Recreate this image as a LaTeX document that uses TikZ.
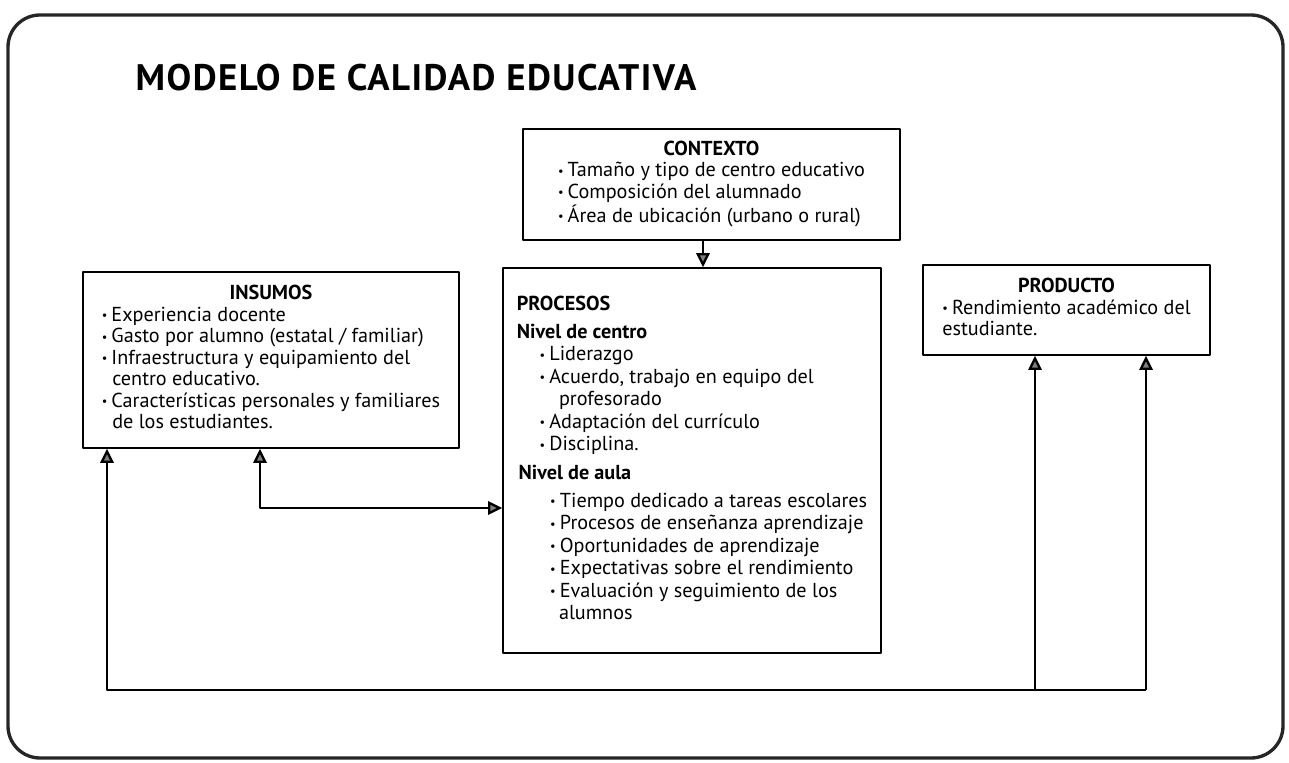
\documentclass[tikz,border=0pt]{standalone}
\usepackage{fontspec}
\setmainfont{PT Sans}
\usetikzlibrary{arrows.meta}

\newcommand{\bul}{\makebox[5.5pt][l]{\raisebox{0.15ex}{\scriptsize\textbullet}}}
\newcommand{\boxtitle}[1]{\multicolumn{1}{@{}c@{}}{\textbf{#1}}}

\begin{document}
\begin{tikzpicture}[x=0.02cm,y=-0.02cm,line join=round,
    box/.style={draw,line width=0.9pt,inner sep=0pt,font=\fontsize{11.5}{12.2}\selectfont},
    arr/.style={line width=1.3pt,-{Triangle[length=8pt,width=7.5pt,fill=black!50]}},
    twoarr/.style={line width=1.3pt,{Triangle[length=8pt,width=7.5pt,fill=black!50]}-{Triangle[length=8pt,width=7.5pt,fill=black!50]}}]

\useasboundingbox (0,0) rectangle (1289,763);
\draw[line width=1.9pt,black!85,rounded corners=0.64cm] (8,15) rectangle (1283,758);

\node[font=\fontsize{21}{24}\selectfont\bfseries\addfontfeature{LetterSpace=4}] (title) at (416,78) {MODELO DE CALIDAD EDUCATIVA};

\node[box,minimum width=7.54cm,minimum height=2.22cm] (ctx) at (711.5,184.5) {\begin{tabular}{@{}l@{}}
\boxtitle{CONTEXTO}\\
\bul Tamaño y tipo de centro educativo\\
\bul Composición del alumnado\\
\bul Área de ubicación (urbano o rural)
\end{tabular}};

\node[box,minimum width=7.52cm,minimum height=3.52cm] (ins) at (271,360) {\begin{tabular}{@{}l@{}}
\boxtitle{INSUMOS}\\
\bul Experiencia docente\\
\bul Gasto por alumno (estatal / familiar)\\
\bul Infraestructura y equipamiento del\\
\hspace*{6pt}centro educativo.\\
\bul Características personales y familiares\\
\hspace*{6pt}de los estudiantes.
\end{tabular}};

\node[box,font=\fontsize{11.5}{12.8}\selectfont,minimum width=7.56cm,minimum height=7.7cm] (proc) at (692,460.5) {\begin{tabular}{@{}l@{}}
\textbf{PROCESOS}\\[3pt]
\textbf{Nivel de centro}\\
\hspace*{13pt}\bul Liderazgo\\
\hspace*{13pt}\bul Acuerdo, trabajo en equipo del\\
\hspace*{24pt}profesorado\\
\hspace*{13pt}\bul Adaptación del currículo\\
\hspace*{13pt}\bul Disciplina.\\[3.6pt]
\hspace*{1pt}\textbf{Nivel de aula}\\[3pt]
\hspace*{19pt}\bul Tiempo dedicado a tareas escolares\\
\hspace*{19pt}\bul Procesos de enseñanza aprendizaje\\
\hspace*{19pt}\bul Oportunidades de aprendizaje\\
\hspace*{19pt}\bul Expectativas sobre el rendimiento\\
\hspace*{19pt}\bul Evaluación y seguimiento de los\\
\hspace*{24pt}alumnos
\end{tabular}};

\node[box,minimum width=5.74cm,minimum height=1.8cm] (prod) at (1066.5,310) {\begin{tabular}{@{}l@{}}
\boxtitle{PRODUCTO}\\
\bul Rendimiento académico del\\
estudiante.
\end{tabular}};

\coordinate (c0) at (703,0);
\coordinate (m0) at (260,508);
\coordinate (b0) at (107,690);
\coordinate (b1) at (1035,690);
\coordinate (b2) at (1146,690);

\draw[arr] (c0 |- ctx.south) -- (c0 |- proc.north);
\draw[twoarr] (m0 |- ins.south) -- (m0) -- (m0 -| proc.west);
\draw[arr] (b2) -- (b0) -- (b0 |- ins.south);
\draw[arr] (b1) -- (b1 |- prod.south);
\draw[arr] (b2) -- (b2 |- prod.south);
\end{tikzpicture}
\end{document}
